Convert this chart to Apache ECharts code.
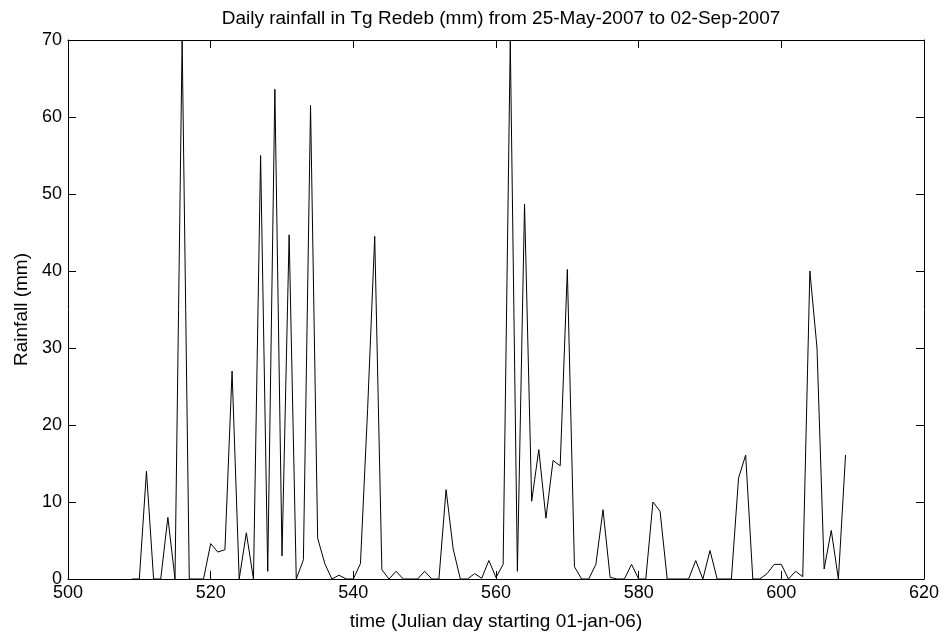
<!DOCTYPE html>
<html>
<head>
<meta charset="utf-8">
<script src="https://cdn.jsdelivr.net/npm/echarts@6/dist/echarts.min.js"></script>
<style>
html,body{margin:0;padding:0;background:#fff;}
#chart{width:944px;height:636px;}
</style>
</head>
<body>
<div id="chart"></div>
<script>
// Julian day (starting 01-jan-06) for each daily value
const startDay = 509;
// Daily rainfall (mm), days 509 .. 609
const rainfall = [
  0, 0, 14, 0, 0, 8, 0, 70, 0, 0,          // 509-518
  0, 4.6, 3.5, 3.8, 27, 0, 6, 0, 55, 1,     // 519-528
  63.6, 3, 44.7, 0, 2.5, 61.5, 5.3, 2, 0, 0.5, // 529-538
  0, 0, 2, 22, 44.5, 1.2, 0, 1, 0, 0,        // 539-548
  0, 1, 0, 0, 11.6, 3.9, 0, 0, 0.7, 0.1,     // 549-558
  2.4, 0.2, 1.9, 70, 1, 48.7, 10.1, 16.8, 7.9, 15.4, // 559-568
  14.7, 40.2, 1.6, 0, 0, 1.9, 9, 0.2, 0, 0,  // 569-578
  1.9, 0, 0, 10, 8.8, 0, 0, 0, 0, 2.4,       // 579-588
  0, 3.7, 0, 0, 0, 13.1, 16.1, 0, 0, 0.7,    // 589-598
  1.9, 1.9, 0, 1, 0.3, 40, 30, 1.3, 6.3, 0,  // 599-608
  16.1                                       // 609
];
const days = rainfall.map((_, i) => startDay + i);
const xTicks = [500, 520, 540, 560, 580, 600, 620];
const yTicks = [0, 10, 20, 30, 40, 50, 60, 70];

const titleText = 'Daily rainfall in Tg Redeb (mm) from 25-May-2007 to 02-Sep-2007';
const xName = 'time (Julian day starting 01-jan-06)';
const yName = 'Rainfall (mm)';

const font = 'Liberation Sans, Arial, sans-serif';
const axisCommon = {
  axisLine: {show: true, onZero: false, lineStyle: {color: '#000', width: 1}},
  axisTick: {show: true, inside: true, length: 8, lineStyle: {color: '#000', width: 1}},
  splitLine: {show: false}
};

const chart = echarts.init(document.getElementById('chart'), null, {renderer: 'canvas'});
chart.setOption({
  animation: false,
  backgroundColor: '#fff',
  title: {
    text: titleText,
    left: 496, top: 4, textAlign: 'center',
    textStyle: {fontFamily: font, fontSize: 19, fontWeight: 'normal', color: '#000'}
  },
  grid: {left: 68, right: 20, top: 40, bottom: 56},
  xAxis: [
    Object.assign({
      type: 'value', position: 'bottom',
      min: xTicks[0], max: xTicks[xTicks.length - 1], interval: 20,
      axisLabel: {color: '#000', fontFamily: font, fontSize: 18, margin: 5},
      name: xName, nameLocation: 'middle', nameGap: 33,
      nameTextStyle: {color: '#000', fontFamily: font, fontSize: 19}
    }, axisCommon),
    Object.assign({
      type: 'value', position: 'top',
      min: xTicks[0], max: xTicks[xTicks.length - 1], interval: 20,
      axisLabel: {show: false}
    }, axisCommon)
  ],
  yAxis: [
    Object.assign({
      type: 'value', position: 'left',
      min: yTicks[0], max: yTicks[yTicks.length - 1], interval: 10,
      axisLabel: {color: '#000', fontFamily: font, fontSize: 18, margin: 6},
      name: yName, nameLocation: 'middle', nameGap: 37,
      nameTextStyle: {color: '#000', fontFamily: font, fontSize: 19}
    }, axisCommon),
    Object.assign({
      type: 'value', position: 'right',
      min: yTicks[0], max: yTicks[yTicks.length - 1], interval: 10,
      axisLabel: {show: false}
    }, axisCommon)
  ],
  series: [{
    type: 'line',
    xAxisIndex: 0, yAxisIndex: 0,
    data: days.map((d, i) => [d, rainfall[i]]),
    showSymbol: false,
    symbol: 'none',
    lineStyle: {color: '#000', width: 1},
    clip: true
  }]
});
</script>
</body>
</html>
